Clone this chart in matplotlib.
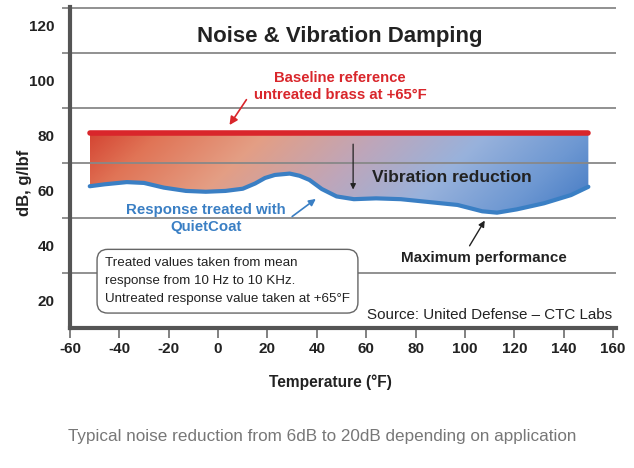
import numpy as np
import matplotlib
matplotlib.use("Agg")
import matplotlib.pyplot as plt

# treated response (temperature in F, level in dB)
temp_f = [-52, -46, -37, -30, -22, -13, -5, 3, 10, 15, 19, 23, 29, 33, 37, 42, 48,
          55, 64, 74, 85, 97, 107, 113, 121, 132, 143, 150]
treated_db = [61.5, 62.2, 63.0, 62.7, 61.0, 59.8, 59.5, 59.8, 60.6, 62.5, 64.5, 65.6,
              66.1, 65.3, 63.8, 60.5, 57.8, 56.8, 57.1, 56.8, 55.8, 54.7, 52.4, 51.9,
              53.1, 55.3, 58.3, 61.3]
baseline_db = 81

x_ticks = [-60, -40, -20, 0, 20, 40, 60, 80, 100, 120, 140, 160]
y_ticks = [20, 40, 60, 80, 100, 120]
grid_lines = [30, 50, 70, 90, 110]

FONT = "Liberation Sans"
RED = "#d9262b"
BLUE = "#3a7fc4"
DARK = "#222222"

plt.rcParams["axes.unicode_minus"] = False

fig = plt.figure(figsize=(6.34, 4.68), dpi=100)
ax = fig.add_axes([70 / 634, 1 - 328 / 468, 546 / 634, 321.5 / 468])
ax.set_xlim(-60, 161.2)
ax.set_ylim(10, 126.8)

# gradient fill between baseline and treated curve
x = np.array(temp_f)
y = np.array(treated_db)
ny, nx = 120, 400
u = np.linspace(0, 1, nx)[None, :]
v = np.linspace(1, 0, ny)[:, None]
t = np.clip(0.85 * u + 0.15 * (1 - v), 0, 1)
stops = [0.0, 0.12, 0.3, 0.5, 0.68, 0.85, 1.0]
cols = np.array([(212, 68, 50), (224, 116, 86), (228, 158, 132), (190, 166, 186),
                 (152, 178, 220), (110, 152, 210), (65, 120, 195)]) / 255
img = np.stack([np.interp(t, stops, cols[:, k]) for k in range(3)], axis=-1)
im = ax.imshow(img, extent=[x.min(), x.max(), y.min() - 1, baseline_db],
               aspect="auto", origin="upper", zorder=1)
poly = ax.fill_between(x, y, baseline_db, facecolor="none", edgecolor="none")
im.set_clip_path(poly.get_paths()[0], transform=ax.transData)

ax.plot([x.min(), x.max()], [baseline_db, baseline_db], color=RED, lw=4,
        solid_capstyle="round", zorder=3)
ax.plot(x, y, color=BLUE, lw=3, solid_capstyle="round", solid_joinstyle="round",
        zorder=3)

# axes styling
for side in ["top", "right"]:
    ax.spines[side].set_visible(False)
for side in ["left", "bottom"]:
    ax.spines[side].set_color("#555555")
    ax.spines[side].set_linewidth(3)
ax.set_xticks(x_ticks)
ax.set_yticks(y_ticks)
ax.set_yticks(grid_lines + [126.4], minor=True)
ax.tick_params(axis="x", length=7, width=1.3, color="#777777", pad=3,
               labelsize=11)
ax.tick_params(axis="y", which="major", length=0, pad=11, labelsize=11)
ax.tick_params(axis="y", which="minor", length=6, width=1.3, color="#888888")
ax.grid(axis="y", which="minor", color="#888888", lw=1.3)
for lab in ax.get_xticklabels() + ax.get_yticklabels():
    lab.set_fontfamily(FONT)
    lab.set_fontweight("bold")
    lab.set_color(DARK)

# annotations
ax.text(49.4, 115.9, "Noise & Vibration Damping", ha="center", va="center",
        fontsize=16, fontweight="bold", family=FONT, color=DARK)
ax.text(49.4, 97.8, "Baseline reference\nuntreated brass at +65°F", ha="center",
        va="center", fontsize=10.7, fontweight="bold", family=FONT, color=RED,
        linespacing=1.3)
ax.annotate("", xy=(4.0, 82.9), xytext=(12.1, 93.8),
            arrowprops=dict(arrowstyle="-|>", color=RED, lw=1.2, mutation_scale=12))
ax.annotate("", xy=(54.7, 59.3), xytext=(54.7, 77.8),
            arrowprops=dict(arrowstyle="-|>", color=DARK, lw=0.9, mutation_scale=8))
ax.text(62.4, 64.8, "Vibration reduction", ha="left", va="center", fontsize=12.6,
        fontweight="bold", family=FONT, color=DARK)
ax.text(-4.9, 49.9, "Response treated with\nQuietCoat", ha="center", va="center",
        fontsize=10.8, fontweight="bold", family=FONT, color=BLUE, linespacing=1.3)
ax.annotate("", xy=(40.5, 57.5), xytext=(29.1, 49.9),
            arrowprops=dict(arrowstyle="-|>", color=BLUE, lw=1.2, mutation_scale=10))
ax.text(107.7, 35.4, "Maximum performance", ha="center", va="center", fontsize=10.9,
        fontweight="bold", family=FONT, color=DARK)
ax.annotate("", xy=(108.6, 49.9), xytext=(101.3, 39.0),
            arrowprops=dict(arrowstyle="-|>", color=DARK, lw=1.0, mutation_scale=9))
ax.text(-45.8, 27.0, "Treated values taken from mean\nresponse from 10 Hz to 10 KHz.\n"
        "Untreated response value taken at +65°F", ha="left", va="center",
        fontsize=9.6, family=FONT, color=DARK, linespacing=1.65,
        bbox=dict(boxstyle="round,pad=0.6,rounding_size=0.8", facecolor="white",
                  edgecolor="#666666", lw=1))
ax.text(159.6, 14.7, "Source: United Defense – CTC Labs", ha="right", va="center",
        fontsize=10.9, family=FONT, color=DARK)

fig.text(330 / 634, 1 - 382 / 468, "Temperature (°F)", ha="center", va="center",
         fontsize=11.2, fontweight="bold", family=FONT, color=DARK)
fig.text(25 / 634, 1 - 183 / 468, "dB, g/lbf", ha="center", va="center",
         rotation=90, fontsize=12, fontweight="bold", family=FONT, color=DARK)
fig.text(322 / 634, 1 - 436 / 468,
         "Typical noise reduction from 6dB to 20dB depending on application",
         ha="center", va="center", fontsize=12.3, family=FONT, color="#777777")

fig.savefig("out.png", dpi=100)
